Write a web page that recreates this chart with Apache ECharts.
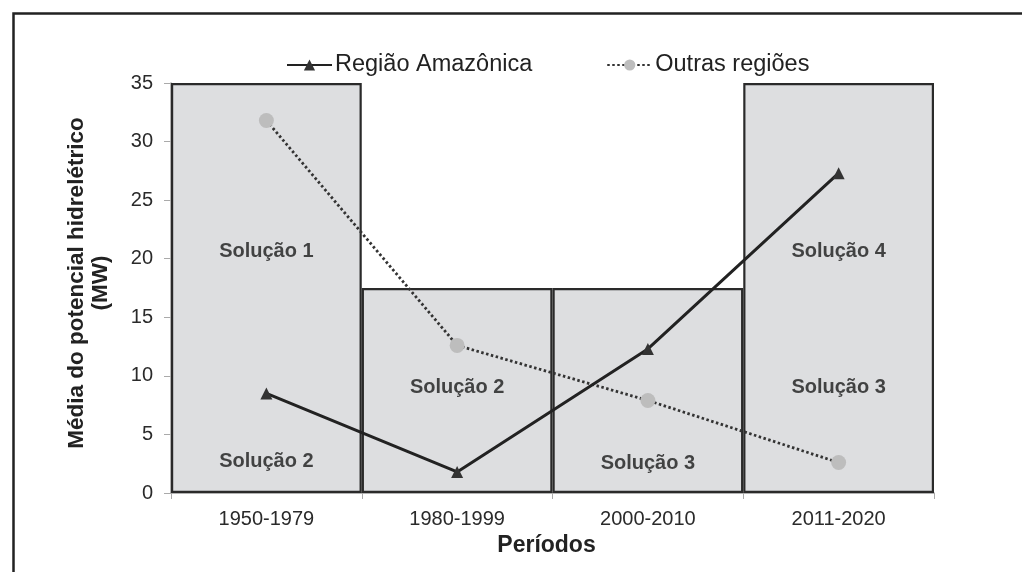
<!DOCTYPE html>
<html>
<head>
<meta charset="utf-8">
<script src="https://cdn.jsdelivr.net/npm/echarts@6/dist/echarts.min.js"></script>
<style>html,body{margin:0;padding:0;background:#fff;}#c{width:1022px;height:572px;}</style>
</head>
<body>
<div id="c"></div>
<script>
const categories = ['1950-1979', '1980-1999', '2000-2010', '2011-2020'];
const barValues = [35, 17.5, 17.5, 35];
const amazonica = [8.5, 1.8, 12.3, 27.3];
const outras = [31.8, 12.6, 7.9, 2.6];
const yTicks = [0, 5, 10, 15, 20, 25, 30, 35];
const solLabelCats = ['1950-1979', '1950-1979', '1980-1999', '2000-2010', '2011-2020', '2011-2020'];
const solLabelY = [20.6, 2.65, 9.05, 2.5, 20.6, 9.0];
const solLabelText = ['Solução 1', 'Solução 2', 'Solução 2', 'Solução 3', 'Solução 4', 'Solução 3'];

const FONT = 'Liberation Sans, Arial, sans-serif';
const chart = echarts.init(document.getElementById('c'));
chart.setOption({
  backgroundColor: '#fff',
  animation: false,
  graphic: [{
    type: 'rect', left: 11, top: 11, z: -10,
    shape: { x: 0, y: 0, width: 1100, height: 700 },
    style: { fill: 'none', stroke: '#222', lineWidth: 2.5 }
  }],
  legend: {
    left: 281, top: 48,
    itemWidth: 45, itemHeight: 14, itemGap: 74,
    data: ['Região Amazônica', 'Outras regiões'],
    textStyle: { fontFamily: FONT, fontSize: 23.5, color: '#222', padding: [0, 0, 0, -2] }
  },
  grid: { left: 171, right: 88, top: 83, bottom: 79, containLabel: false },
  xAxis: {
    type: 'category', data: categories, boundaryGap: true,
    axisLine: { lineStyle: { color: '#999', width: 1.5 } },
    axisTick: { show: true, length: 6, lineStyle: { color: '#aaa' } },
    axisLabel: { fontFamily: FONT, fontSize: 20, color: '#2a2a2a', margin: 16 },
    name: 'Períodos', nameLocation: 'middle', nameGap: 38,
    nameTextStyle: { fontFamily: FONT, fontSize: 23, fontWeight: 'bold', color: '#222', padding: [0, 12, 0, 0] }
  },
  yAxis: {
    type: 'value', min: 0, max: 35, interval: 5,
    axisLine: { show: true, lineStyle: { color: '#999', width: 1.5 } },
    axisTick: { show: true, length: 7, lineStyle: { color: '#aaa' } },
    splitLine: { show: false },
    axisLabel: { fontFamily: FONT, fontSize: 20, color: '#2a2a2a', margin: 18,
      formatter: v => yTicks.includes(v) ? String(v) : '' },
    name: 'Média do potencial hidrelétrico\n(MW)', nameLocation: 'middle', nameGap: 58,
    nameTextStyle: { fontFamily: FONT, fontSize: 22.5, fontWeight: 'bold', color: '#222', lineHeight: 24, padding: [0, 0, 0, 10] }
  },
  series: [
    {
      name: 'bars', type: 'bar', data: barValues, barCategoryGap: '0%', barGap: '-100%',
      itemStyle: { color: '#dddee0', borderColor: '#2a2a2a', borderWidth: 2.2 },
      z: 1, silent: true
    },
    {
      name: 'labels', type: 'scatter', symbolSize: 0, z: 3,
      data: solLabelCats.map((c, i) => ({ value: [c, solLabelY[i]], name: solLabelText[i] })),
      label: { show: true, position: 'inside', formatter: p => p.name,
        fontFamily: FONT, fontSize: 20, fontWeight: 'bold', color: '#1a1a1a' }
    },
    {
      name: 'Outras regiões', type: 'line', data: outras, z: 4,
      symbol: 'circle', symbolSize: 15,
      itemStyle: { color: '#bdbdbd' },
      lineStyle: { color: '#333', width: 2.8, type: [2.5, 2.5] }
    },
    {
      name: 'Região Amazônica', type: 'line', data: amazonica, z: 5,
      symbol: 'triangle', symbolSize: [12, 12],
      itemStyle: { color: '#333' },
      lineStyle: { color: '#222', width: 3 }
    }
  ]
});
</script>
</body>
</html>
